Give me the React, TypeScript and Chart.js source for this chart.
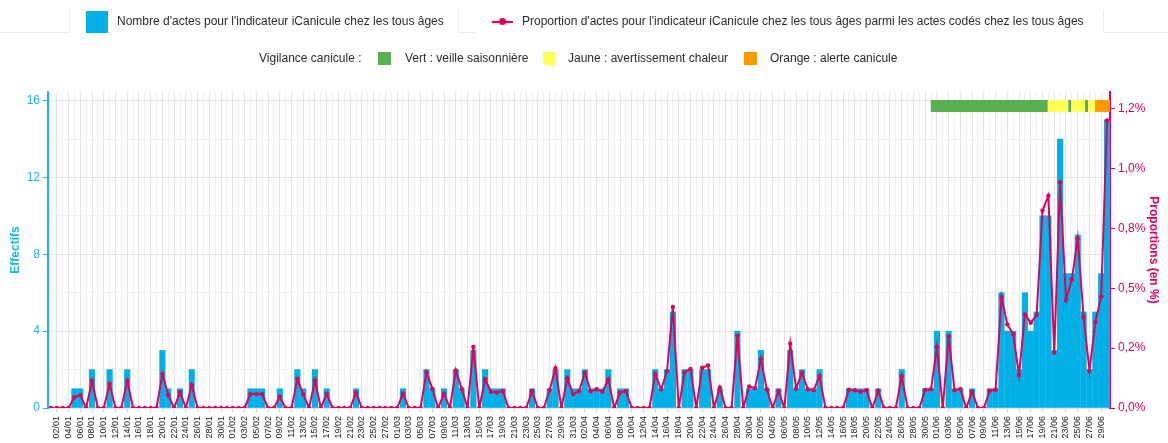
import React, { useEffect, useRef } from "react";
import { Chart, registerables } from "chart.js";

Chart.register(...registerables);

// ---- data ----
const monthNumbers = ["01", "02", "03", "04", "05", "06"];
const monthLengths = [31, 28, 31, 30, 31, 30];

const countsJan = [0,0,0,0,1,1,0,2,0,0,2,0,0,2,0,0,0,0,0,3,1,0,1,0,2,0,0,0,0,0,0];
const countsFeb = [0,0,0,1,1,1,0,0,1,0,0,2,1,0,2,0,1,0,0,0,0,1,0,0,0,0,0,0];
const countsMar = [0,1,0,0,0,2,1,0,1,0,2,1,0,3,0,2,1,1,1,0,0,0,0,1,0,0,1,2,0,2,1];
const countsApr = [1,2,1,1,1,2,0,1,1,0,0,0,0,2,1,2,5,0,2,2,0,2,2,0,1,0,0,4,0,1];
const countsMay = [1,3,1,0,1,0,3,1,2,1,1,2,0,0,0,0,1,1,1,1,0,1,0,0,0,2,0,0,0,1,1];
const countsJun = [4,0,4,1,1,0,1,0,0,1,1,6,4,4,2,6,4,5,10,10,3,14,7,7,9,5,2,5,7,15];

const propsJan = [0,0,0,0,0.045,0.053,0,0.114,0,0,0.100,0,0,0.114,0,0,0,0,0,0.142,0.053,0,0.067,0,0.096,0,0,0,0,0,0];
const propsFeb = [0,0,0,0.058,0.058,0.058,0,0,0.047,0,0,0.121,0.057,0,0.116,0,0.060,0,0,0,0,0.065,0,0,0,0,0,0];
const propsMar = [0,0.061,0,0,0,0.149,0.081,0,0.060,0,0.157,0.081,0,0.255,0,0.120,0.068,0.065,0.071,0,0,0,0,0.071,0,0,0.075,0.166,0,0.124,0.058];
const propsApr = [0.070,0.147,0.070,0.078,0.068,0.120,0,0.065,0.071,0,0,0,0,0.142,0.078,0.153,0.422,0,0.149,0.163,0,0.168,0.178,0,0.086,0,0,0.302,0,0.090];
const propsMay = [0.083,0.205,0.078,0,0.072,0,0.268,0.081,0.147,0.078,0.075,0.134,0,0,0,0,0.076,0.074,0.068,0.074,0,0.072,0,0,0,0.134,0,0,0,0.075,0.078];
const propsJun = [0.255,0,0.300,0.074,0.080,0,0.068,0,0,0.072,0.076,0.463,0.349,0.308,0.138,0.391,0.356,0.388,0.824,0.886,0.231,0.942,0.451,0.537,0.708,0.379,0.156,0.358,0.466,1.200];

const leftTickLabels = ["0", "4", "8", "12", "16"];
const propTickLabels = ["0,0%", "0,2%", "0,5%", "0,8%", "1,0%", "1,2%"];

// vigilance periods, in days counted from 01/01 00:00
const vigBounds = [150.45, 170.4, 173.9, 174.4, 176.75, 177.3, 178.45, 181];
const vigLevels = ["vert", "jaune", "vert", "jaune", "vert", "jaune", "orange"];

const countLabel = "Nombre d'actes pour l'indicateur iCanicule chez les tous âges";
const propLabel = "Proportion d'actes pour l'indicateur iCanicule chez les tous âges parmi les actes codés chez les tous âges";

// ---- styles ----
const FONT = "'Liberation Sans', Arial, Helvetica, sans-serif";
const BLUE = "#00b0e6";
const BLUE_AXIS = "#1db2e8";
const PINK = "#e2005b";
const VIG_COLORS: Record<string, string> = { vert: "#59b050", jaune: "#ffff55", orange: "#ff9900" };

const dayLabels: string[] = [];
monthLengths.forEach((len, m) => {
  for (let d = 1; d <= len; d++) dayLabels.push(String(d).padStart(2, "0") + "/" + monthNumbers[m]);
});
const counts = [...countsJan, ...countsFeb, ...countsMar, ...countsApr, ...countsMay, ...countsJun];
const props = [...propsJan, ...propsFeb, ...propsMar, ...propsApr, ...propsMay, ...propsJun];

const VIG_Y = 1.261;

function Txt({ x, y, children }: { x: number; y: number; children: React.ReactNode }) {
  return (
    <div
      style={{
        position: "absolute",
        left: x,
        top: y,
        fontSize: 12,
        lineHeight: "14px",
        whiteSpace: "nowrap",
        color: "#2b2b2b",
      }}
    >
      {children}
    </div>
  );
}

function Sq({ x, y, s, color }: { x: number; y: number; s: number; color: string }) {
  return <div style={{ position: "absolute", left: x, top: y, width: s, height: s, background: color }} />;
}

export default function App() {
  const ref = useRef<HTMLCanvasElement>(null);

  useEffect(() => {
    const canvas = ref.current;
    if (!canvas) return;
    Chart.defaults.font.family = FONT;
    const chart = new Chart(canvas, {
      type: "bar",
      data: {
        labels: dayLabels,
        datasets: [
          {
            type: "line",
            label: propLabel,
            data: props,
            xAxisID: "x",
            yAxisID: "y2",
            borderColor: PINK,
            backgroundColor: PINK,
            borderWidth: 2,
            pointRadius: 2.2,
            pointHoverRadius: 2.2,
            pointBorderWidth: 0,
            tension: 0,
            order: 0,
          } as any,
          {
            type: "line",
            label: "vigilance",
            data: vigBounds.map((b) => ({ x: b, y: VIG_Y })),
            xAxisID: "xv",
            yAxisID: "y2",
            borderWidth: 12,
            borderCapStyle: "butt",
            borderColor: VIG_COLORS.vert,
            pointRadius: 0,
            segment: {
              borderColor: (ctx: any) => VIG_COLORS[vigLevels[ctx.p0DataIndex]],
            },
            order: 1,
          } as any,
          {
            type: "bar",
            label: countLabel,
            data: counts,
            xAxisID: "x",
            yAxisID: "y",
            backgroundColor: BLUE,
            grouped: false,
            barPercentage: 0.94,
            categoryPercentage: 1,
            order: 2,
          } as any,
        ],
      },
      options: {
        responsive: false,
        maintainAspectRatio: false,
        animation: false,
        devicePixelRatio: 1,
        layout: { padding: { top: 92, left: 0, right: 0, bottom: 0 } },
        plugins: { legend: { display: false }, tooltip: { enabled: false } },
        scales: {
          x: {
            type: "category",
            offset: true,
            grid: {
              offset: false,
              color: (ctx: any) => (ctx.index % 2 === 1 ? "#e4e4e4" : "#f1f1f1"),
              tickLength: 4,
              tickColor: (ctx: any) => (ctx.index % 2 === 1 ? "#cfcfcf" : "rgba(0,0,0,0)"),
            },
            border: { display: false },
            ticks: {
              autoSkip: false,
              maxRotation: 90,
              minRotation: 90,
              padding: 4,
              color: "#222",
              font: { size: 9, family: FONT },
              callback: (_v: any, i: number) => (i % 2 === 1 ? dayLabels[i] : ""),
            },
            afterFit: (s: any) => {
              s.height = 35;
            },
          },
          xv: { type: "linear", display: false, min: 0, max: 181, offset: false },
          y: {
            position: "left",
            min: 0,
            max: 16.45,
            ticks: {
              stepSize: 2,
              includeBounds: false,
              color: BLUE_AXIS,
              padding: 3,
              font: { size: 12, family: FONT },
              callback: (v: any) => (Number(v) % 4 === 0 ? leftTickLabels[Number(v) / 4] : ""),
            },
            grid: {
              color: (ctx: any) => (ctx.tick && ctx.tick.value % 4 === 0 ? "#e4e4e4" : "#f2f2f2"),
              tickLength: 5,
              tickColor: (ctx: any) => (ctx.tick && ctx.tick.value % 4 === 0 ? BLUE_AXIS : "rgba(0,0,0,0)"),
            },
            border: { color: BLUE_AXIS, width: 2 },
            title: {
              display: true,
              text: "Effectifs",
              color: BLUE_AXIS,
              font: { size: 12, weight: "bold", family: FONT },
              padding: { top: 8, bottom: 0 },
            },
            afterFit: (s: any) => {
              s.width = 48;
            },
          },
          y2: {
            position: "right",
            min: 0,
            max: 1.319,
            ticks: {
              stepSize: 0.25,
              includeBounds: false,
              color: PINK,
              padding: 3,
              font: { size: 12, family: FONT },
              callback: (v: any) => propTickLabels[Math.round(Number(v) * 4)] ?? "",
            },
            grid: { drawOnChartArea: false, tickLength: 5, tickColor: PINK },
            border: { color: PINK, width: 2 },
            title: {
              display: true,
              text: "Proportions (en %)",
              color: PINK,
              font: { size: 12, weight: "bold", family: FONT },
              padding: { top: 7, bottom: 0 },
            },
            afterFit: (s: any) => {
              s.width = 58;
            },
          },
        },
      } as any,
    });
    // bar width = one category band (minus a hairline), measured on the library's own scale
    const xs: any = chart.scales.x;
    const band = Math.abs(xs.getPixelForValue(1) - xs.getPixelForValue(0));
    (chart.data.datasets[2] as any).barThickness = band * 0.94;
    chart.update();
    return () => chart.destroy();
  }, []);

  return (
    <div
      style={{
        position: "fixed",
        left: 0,
        top: 0,
        width: 1168,
        height: 443,
        background: "#fff",
        overflow: "hidden",
        fontFamily: FONT,
      }}
    >
      <canvas
        ref={ref}
        width={1168}
        height={443}
        style={{ position: "absolute", left: 0, top: 0, width: 1168, height: 443 }}
      />
      {/* faint legend frames */}
      <div style={{ position: "absolute", left: -1, top: 10, width: 70, height: 22, borderRight: "1px solid #ececec", borderBottom: "1px solid #ececec" }} />
      <div style={{ position: "absolute", left: 458, top: 10, width: 16, height: 22, borderLeft: "1px solid #ececec", borderBottom: "1px solid #ececec" }} />
      <div style={{ position: "absolute", left: 1103, top: 10, width: 70, height: 22, borderLeft: "1px solid #ececec", borderBottom: "1px solid #ececec" }} />
      {/* row 1 */}
      <Sq x={86} y={11} s={22} color={BLUE} />
      <Txt x={117} y={14}>{countLabel}</Txt>
      <div style={{ position: "absolute", left: 492, top: 20.5, width: 21, height: 2, background: PINK }} />
      <div style={{ position: "absolute", left: 499, top: 18, width: 7, height: 7, borderRadius: "50%", background: PINK }} />
      <Txt x={522} y={14}>{propLabel}</Txt>
      {/* row 2 */}
      <Txt x={259} y={51}>Vigilance canicule :</Txt>
      <Sq x={378} y={52} s={13} color={VIG_COLORS.vert} />
      <Txt x={405} y={51}>Vert : veille saisonnière</Txt>
      <Sq x={543} y={52} s={13} color={VIG_COLORS.jaune} />
      <Txt x={568} y={51}>Jaune : avertissement chaleur</Txt>
      <Sq x={744} y={52} s={13} color={VIG_COLORS.orange} />
      <Txt x={770} y={51}>Orange : alerte canicule</Txt>
    </div>
  );
}
